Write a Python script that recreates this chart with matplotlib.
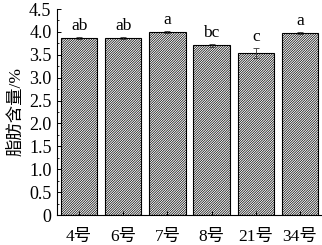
import matplotlib
matplotlib.use("Agg")
import matplotlib.pyplot as plt
from matplotlib.ticker import MultipleLocator

plt.rcParams['font.family'] = ['Liberation Serif', 'Noto Sans CJK SC']
plt.rcParams['hatch.linewidth'] = 0.5
plt.rcParams['hatch.color'] = '#444444'

varieties = ["4号", "6号", "7号", "8号", "21号", "34号"]
fat = [3.86, 3.86, 4.00, 3.71, 3.54, 3.97]
err = [0.02, 0.02, 0.02, 0.03, 0.11, 0.02]
letters = ["ab", "ab", "a", "bc", "c", "a"]
yticks = [0, 0.5, 1.0, 1.5, 2.0, 2.5, 3.0, 3.5, 4.0, 4.5]
ytick_labels = ["0", "0.5", "1.0", "1.5", "2.0", "2.5", "3.0", "3.5", "4.0", "4.5"]

fig = plt.figure(figsize=(3.22, 2.45), dpi=100)
ax = fig.add_axes([57/322, 30/245, 265/322, 206/245])

x = range(len(varieties))
ax.bar(x, fat, width=0.82, color='white', edgecolor='black', linewidth=0.8,
       hatch='//////////////', yerr=err, capsize=2,
       error_kw=dict(elinewidth=0.6, capthick=0.6, ecolor='#333333'))
for i in x:
    ax.text(i, fat[i] + err[i] + 0.07, letters[i], ha='center', va='bottom', fontsize=12.5)

ax.set_xlim(-0.5, len(varieties) - 0.5)
ax.set_ylim(0, 4.5)
ax.set_xticks(list(x))
ax.set_xticklabels(varieties, fontsize=12.5)
ax.set_yticks(yticks)
ax.set_yticklabels(ytick_labels, fontsize=13)
ax.yaxis.set_minor_locator(MultipleLocator(0.25))
ax.tick_params(axis='both', direction='in', length=3, width=0.7, pad=4)
ax.tick_params(axis='y', which='minor', direction='in', length=1.5, width=0.6)
ax.tick_params(axis='x', pad=10)
ax.spines['top'].set_visible(False)
ax.spines['right'].set_visible(False)
ax.spines['left'].set_linewidth(0.8)
ax.spines['bottom'].set_linewidth(0.8)
ax.set_ylabel("脂肪含量/%", fontsize=12.5, labelpad=3)

fig.savefig("out.png", dpi=100)
